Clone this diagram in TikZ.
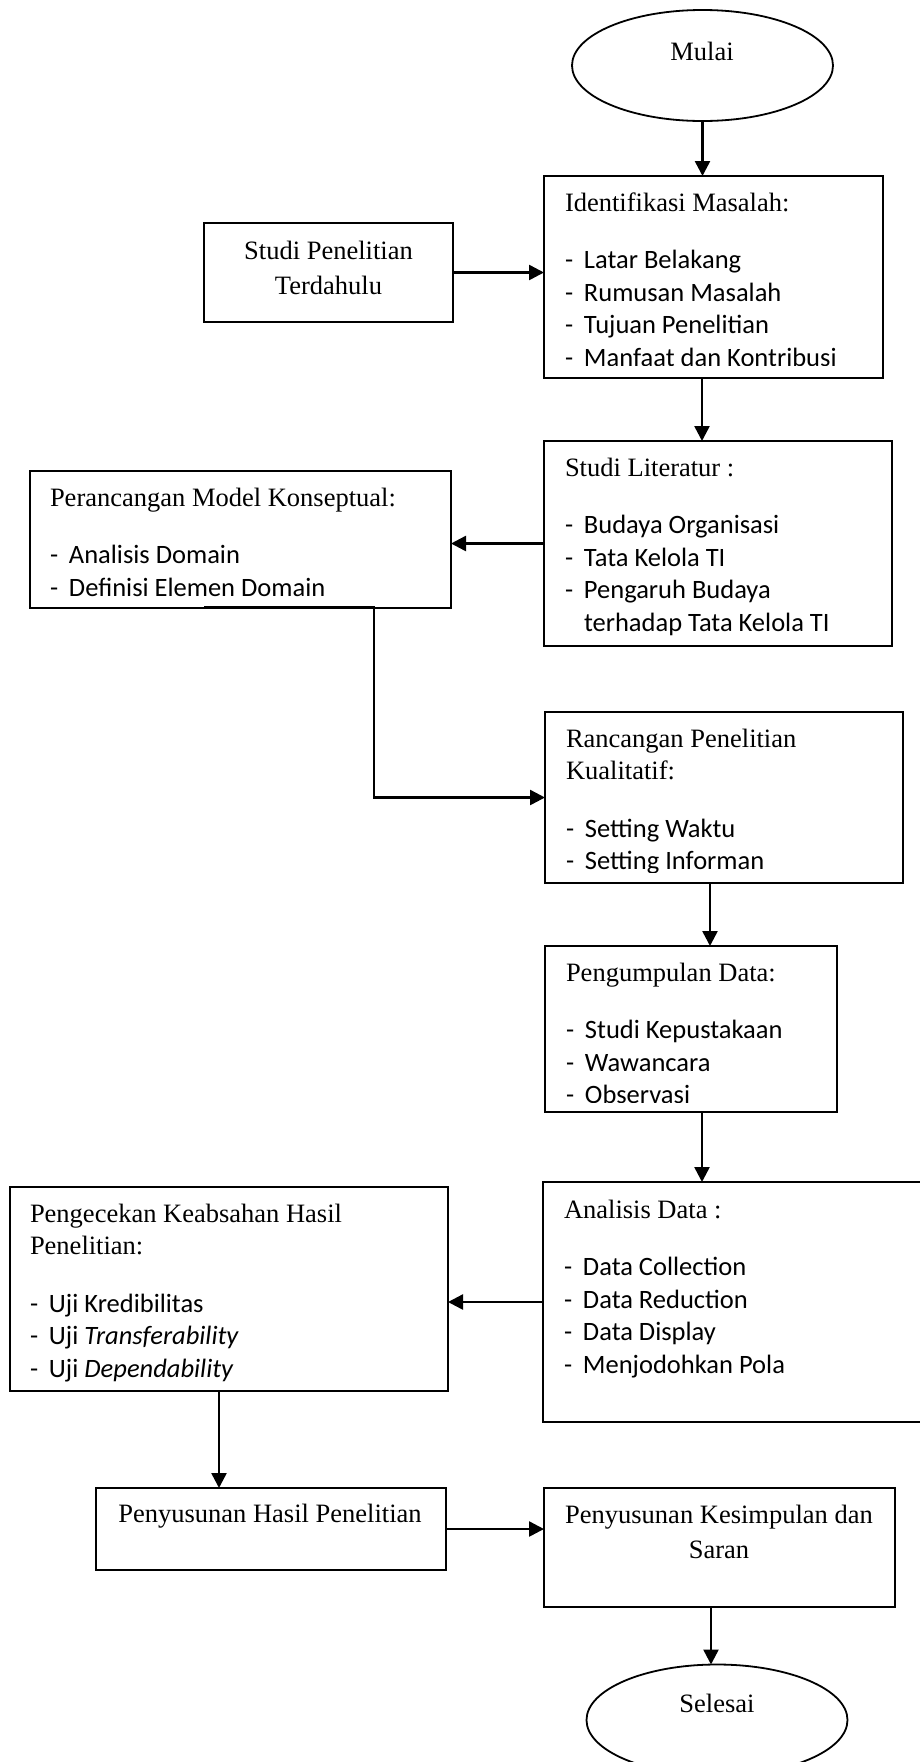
\documentclass[tikz,border=0pt]{standalone}
\usepackage{fontspec}
\setmainfont{Liberation Serif}
\newfontfamily\listfont{Carlito}
\usetikzlibrary{shapes.geometric,arrows.meta}

% one bullet line of a box: a dash, then the item text
\newcommand\flowitem[1]{{\listfont\makebox[19pt][l]{-}#1}}
\newcommand\flowcont[1]{{\listfont\hspace*{19pt}#1}}
\newcommand\firstline{\rule{0pt}{22pt}}

\tikzset{
  box/.style={draw=black, line width=1.8pt, inner sep=0pt, outer sep=0pt, anchor=north west},
  term/.style={draw=black, ellipse, line width=1.8pt, inner sep=0pt, outer sep=0pt,
               minimum width=261pt, minimum height=111pt},
  body/.style={anchor=north west, inner sep=0pt, outer sep=0pt, align=left,
               font=\fontsize{26.5}{32.5}\selectfont},
  centred/.style={inner sep=0pt, outer sep=0pt, align=center,
               font=\fontsize{26.5}{35}\selectfont},
  flowarrow/.style={line width=2.5pt, -{Triangle[length=15pt,width=15pt]}},
}

\begin{document}
\begin{tikzpicture}[x=1pt,y=-1pt]
\useasboundingbox (0,0) rectangle (919,1762);

% start and end terminals
\node[term] (mulai) at (702.5,65.5) {};
\node[centred, anchor=base] (mulai-t) at (702,60) {Mulai};
\node[term] (selesai) at (717,1720) {};
\node[centred, anchor=base] (selesai-t) at (717,1712) {Selesai};

% process boxes
\node[box, minimum width=339pt, minimum height=202pt] (idm) at (544,176) {};
\node[box, minimum width=249pt, minimum height=99pt]  (spt) at (204,223) {};
\node[box, minimum width=348pt, minimum height=205pt] (stl) at (544,441) {};
\node[box, minimum width=421pt, minimum height=137pt] (pmk) at (30,471) {};
\node[box, minimum width=358pt, minimum height=171pt] (rpk) at (545,712) {};
\node[box, minimum width=292pt, minimum height=166pt] (pgd) at (545,946) {};
\node[box, minimum width=400pt, minimum height=240pt] (anl) at (543,1182) {};
\node[box, minimum width=438pt, minimum height=204pt] (pkh) at (10,1187) {};
\node[box, minimum width=350pt, minimum height=82pt]  (phl) at (96,1488) {};
\node[box, minimum width=351pt, minimum height=119pt] (pks) at (544,1488) {};

% box contents
\begin{scope}
  \clip (idm.north west) rectangle ([yshift=13pt]idm.south east);
  \node[body] (idm-t) at (565,189) {\firstline Identifikasi Masalah:\\[25pt]
    \flowitem{Latar Belakang}\\
    \flowitem{Rumusan Masalah}\\
    \flowitem{Tujuan Penelitian}\\
    \flowitem{Manfaat dan Kontribusi}};
\end{scope}

\node[centred, anchor=north] (spt-t) at (328.5,237) {\firstline Studi Penelitian\\Terdahulu};

\node[body] (stl-t) at (565,454) {\firstline Studi Literatur :\\[25pt]
  \flowitem{Budaya Organisasi}\\
  \flowitem{Tata Kelola TI}\\
  \flowitem{Pengaruh Budaya}\\
  \flowcont{terhadap Tata Kelola TI}};

\node[body] (pmk-t) at (50,484) {\firstline Perancangan Model Konseptual:\\[25pt]
  \flowitem{Analisis Domain}\\
  \flowitem{Definisi Elemen Domain}};

\begin{scope}
  \clip (rpk.north west) rectangle ([yshift=11pt]rpk.south east);
  \node[body] (rpk-t) at (566,725) {\firstline Rancangan Penelitian\\Kualitatif:\\[25pt]
    \flowitem{Setting Waktu}\\
    \flowitem{Setting Informan}};
\end{scope}

\begin{scope}
  \clip (pgd.north west) rectangle ([yshift=10pt]pgd.south east);
  \node[body] (pgd-t) at (566,959) {\firstline Pengumpulan Data:\\[25pt]
    \flowitem{Studi Kepustakaan}\\
    \flowitem{Wawancara}\\
    \flowitem{Observasi}};
\end{scope}

\node[body] (anl-t) at (564,1196) {\firstline Analisis Data :\\[25pt]
  \flowitem{Data Collection}\\
  \flowitem{Data Reduction}\\
  \flowitem{Data Display}\\
  \flowitem{Menjodohkan Pola}};

\node[body] (pkh-t) at (30,1200) {\firstline Pengecekan Keabsahan Hasil\\Penelitian:\\[25pt]
  \flowitem{Uji Kredibilitas}\\
  \flowitem{Uji \textit{Transferability}}\\
  \flowitem{Uji \textit{Dependability}}};

\node[centred, anchor=base] (phl-t) at (270,1522) {Penyusunan Hasil Penelitian};
\node[centred, anchor=north] (pks-t) at (719,1501) {\firstline Penyusunan Kesimpulan dan\\Saran};

% connector anchor points
\coordinate (idm-out) at ([xshift=-11.5pt]idm.south);
\coordinate (pmk-in)  at ([xshift=-36.5pt,yshift=1pt]pmk.south);
\coordinate (pmk-out) at ([xshift=133.5pt,yshift=1pt]pmk.south);
\coordinate (rpk-out) at ([xshift=-14pt]rpk.south);
\coordinate (pgd-out) at ([xshift=11pt]pgd.south);
\coordinate (pkh-out) at ([xshift=-10pt]pkh.south);
\coordinate (pks-out) at ([xshift=-8.5pt]pks.south);

% connectors
\draw[flowarrow] (mulai.south) -- (mulai.south |- idm.north);
\draw[flowarrow] (spt.east) -- (spt.east -| idm.west);
\draw[flowarrow] (idm-out) -- (idm-out |- stl.north);
\draw[flowarrow] (stl.west) -- (stl.west -| pmk.east);
\draw[flowarrow] (pmk-in) -- (pmk-out) |- (rpk.west);
\draw[flowarrow] (rpk-out) -- (rpk-out |- pgd.north);
\draw[flowarrow] (pgd-out) -- (pgd-out |- anl.north);
\draw[flowarrow] (anl.west) -- (anl.west -| pkh.east);
\draw[flowarrow] (pkh-out) -- (pkh-out |- phl.north);
\draw[flowarrow] (phl.east) -- (phl.east -| pks.west);
\draw[flowarrow] (pks-out) -- (pks-out |- selesai.north);
\end{tikzpicture}
\end{document}
